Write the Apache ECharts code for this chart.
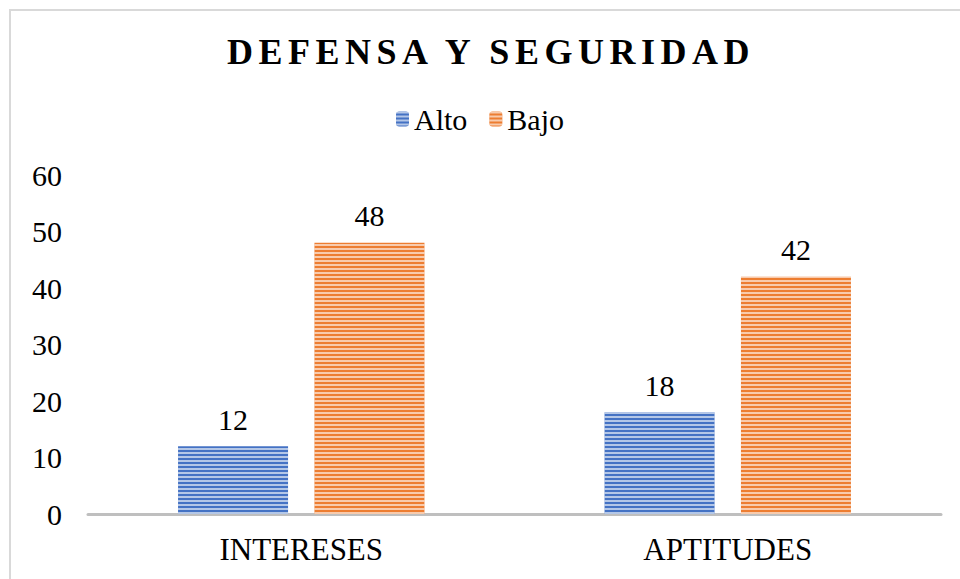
<!DOCTYPE html>
<html>
<head>
<meta charset="utf-8">
<script src="https://cdn.jsdelivr.net/npm/echarts@6/dist/echarts.min.js"></script>
<style>
  html, body { margin: 0; padding: 0; background: #fff; }
  #chart { width: 960px; height: 579px; }
  /* titulo espaciado */
  #chart svg text[style*="bold"] { letter-spacing: 5.5px; }
</style>
</head>
<body>
<div id="chart"></div>
<script>
  const categorias = ['INTERESES', 'APTITUDES'];
  const alto = [12, 18];
  const bajo = [48, 42];
  const serif = 'Liberation Serif, Times New Roman, serif';

  let myChart = echarts.init(document.getElementById('chart'), null, { renderer: 'svg' });

  let rayas = function (c) {
    return {
      symbol: 'rect',
      symbolSize: 1,
      dashArrayX: [1, 0],
      dashArrayY: [2, 2],
      rotation: 0,
      color: c
    };
  };

  let option = {
    backgroundColor: '#ffffff',
    animation: false,
    title: {
      text: 'DEFENSA Y SEGURIDAD',
      left: 222,
      top: 29,
      textStyle: {
        fontFamily: serif,
        fontWeight: 'bold',
        fontSize: 36,
        color: '#000000'
      }
    },
    legend: {
      data: ['Alto', 'Bajo'],
      top: 99,
      left: 'center',
      itemWidth: 13,
      itemHeight: 15,
      itemGap: 22,
      textStyle: {
        fontFamily: serif,
        fontSize: 30,
        color: '#000000'
      }
    },
    grid: {
      left: 88,
      right: 19,
      top: 175,
      bottom: 65
    },
    xAxis: {
      type: 'category',
      data: categorias,
      axisTick: { show: false },
      axisLine: { lineStyle: { color: '#bfbfbf', width: 3 } },
      axisLabel: {
        fontFamily: serif,
        fontSize: 31,
        color: '#000000',
        margin: 20
      }
    },
    yAxis: {
      type: 'value',
      min: 0,
      max: 60,
      interval: 10,
      splitLine: { show: false },
      axisLine: { show: false },
      axisTick: { show: false },
      axisLabel: {
        fontFamily: serif,
        fontSize: 30,
        color: '#000000',
        margin: 26
      }
    },
    series: [
      {
        name: 'Alto',
        type: 'bar',
        data: alto,
        barWidth: 110,
        barGap: '24%',
        itemStyle: {
          color: '#4472c4',
          decal: rayas('rgba(255,255,255,0.6)')
        },
        label: {
          show: true,
          position: 'top',
          distance: 12,
          fontFamily: serif,
          fontSize: 30,
          color: '#000000'
        }
      },
      {
        name: 'Bajo',
        type: 'bar',
        data: bajo,
        barWidth: 110,
        itemStyle: {
          color: '#ed7d31',
          decal: rayas('rgba(255,255,255,0.6)')
        },
        label: {
          show: true,
          position: 'top',
          distance: 12,
          fontFamily: serif,
          fontSize: 30,
          color: '#000000'
        }
      }
    ],
    graphic: [
      {
        type: 'rect',
        silent: true,
        shape: { x: 10, y: 10, width: 980, height: 620 },
        style: { fill: null, stroke: '#d9d9d9', lineWidth: 2 }
      }
    ]
  };

  myChart.setOption(option);
</script>
</body>
</html>
